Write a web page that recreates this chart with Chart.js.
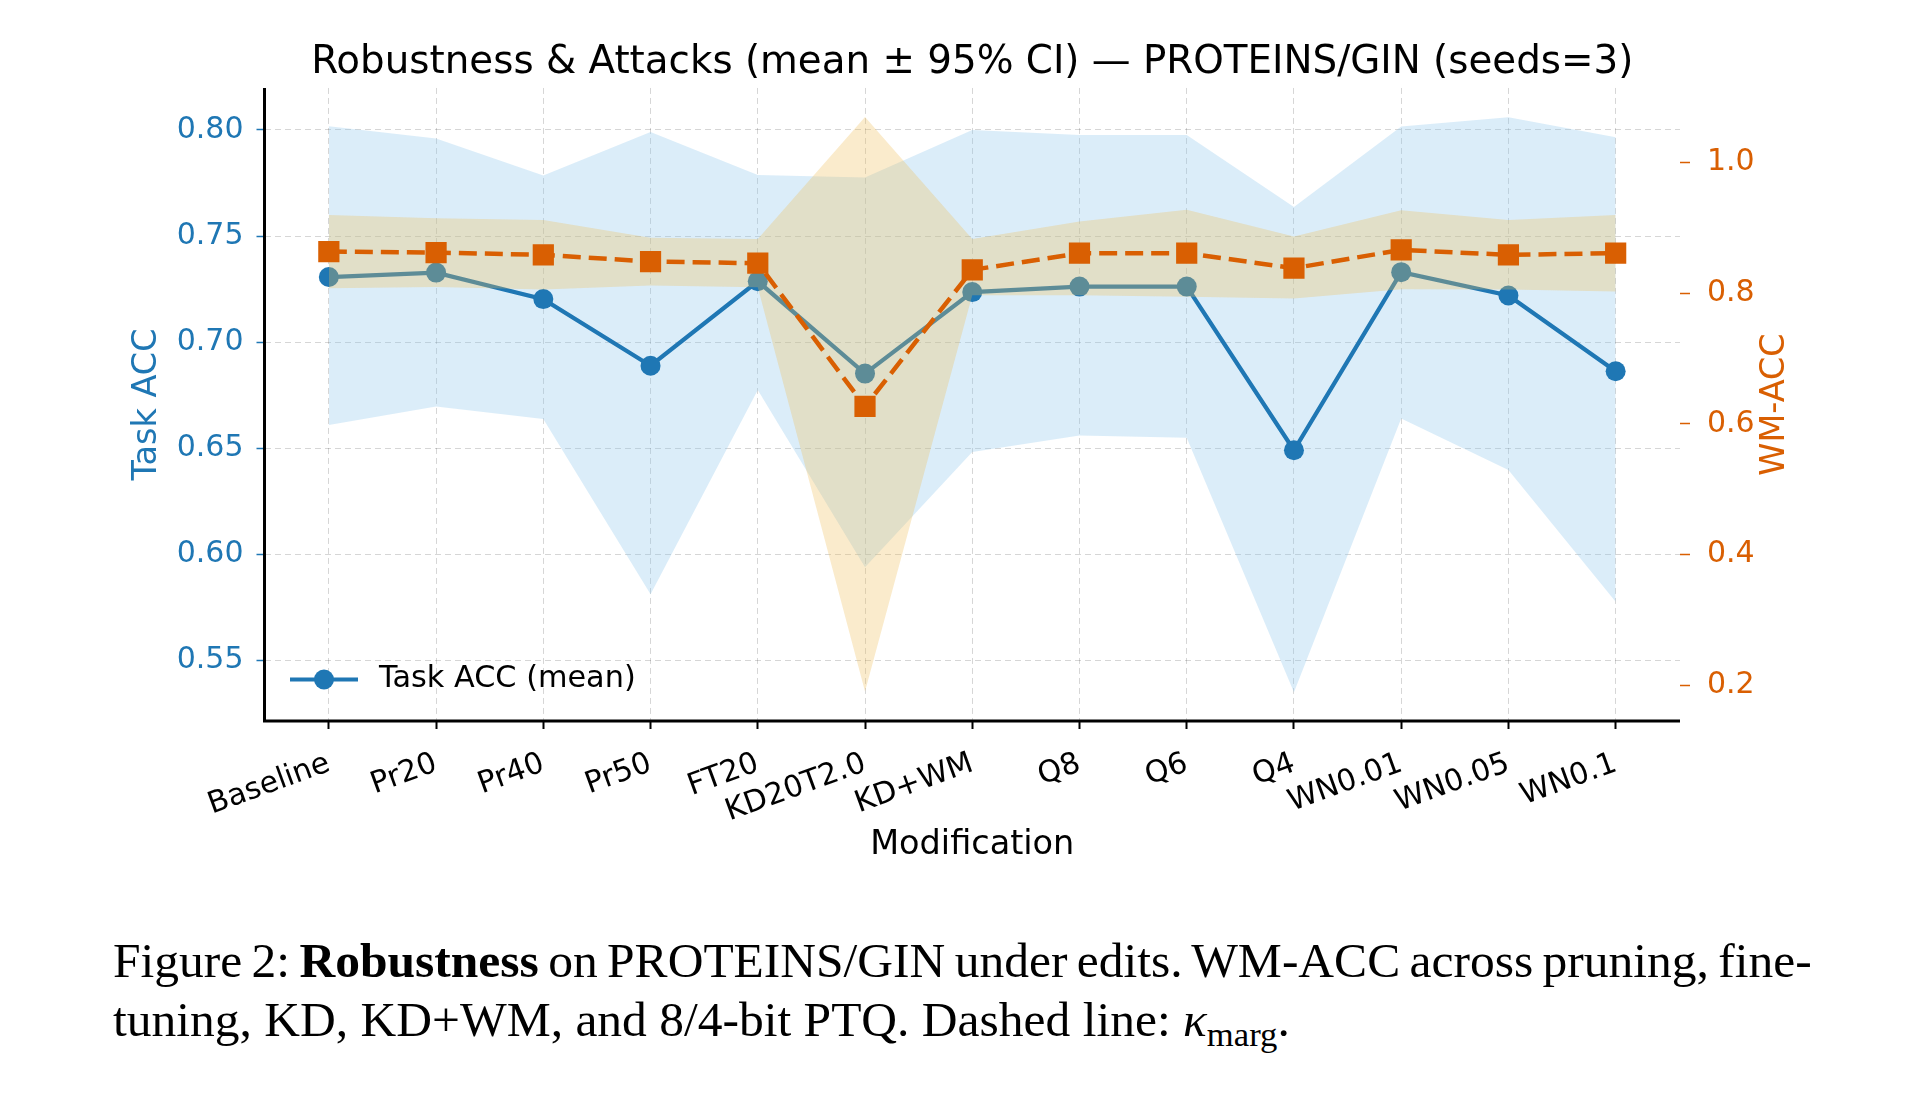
<!DOCTYPE html>
<html>
<head>
<meta charset="utf-8">
<script src="https://cdn.jsdelivr.net/npm/chart.js@4.4.0/dist/chart.umd.min.js"></script>
<style>
  html, body { margin: 0; padding: 0; background: #fff; }
  body { width: 1920px; height: 1097px; position: relative; overflow: hidden; }
  #wrap { position: absolute; left: 0; top: 0; width: 1920px; height: 900px; }
  #caption { position: absolute; left: 113px; top: 931px; font-family: "Liberation Serif", "Times New Roman", serif;
             font-size: 49.5px; line-height: 59px; color: #000; white-space: nowrap; }
  #caption sub { font-size: 0.7em; vertical-align: -0.3em; line-height: 0; }
  #cap1 { word-spacing: -3px; }
</style>
</head>
<body>
<div id="wrap"><canvas id="chart" width="1920" height="900"></canvas></div>
<div id="caption">
  <div id="cap1">Figure 2: <b>Robustness</b> on PROTEINS/GIN under edits. WM-ACC across pruning, fine-</div>
  <div>tuning, KD, KD+WM, and 8/4-bit PTQ. Dashed line: <i>κ</i><sub>marg</sub>.</div>
</div>
<script>
// categories (x axis)
const categories = ['Baseline', 'Pr20', 'Pr40', 'Pr50', 'FT20', 'KD20T2.0', 'KD+WM',
    'Q8', 'Q6', 'Q4', 'WN0.01', 'WN0.05', 'WN0.1'];

// Task ACC (left axis): mean and 95% CI
const taskAcc = [0.7307, 0.7328, 0.7203, 0.6889, 0.7287, 0.6852, 0.7236, 0.7262, 0.7262, 0.6491, 0.7330, 0.7220, 0.6863];
const taskLo  = [0.6610, 0.6697, 0.6638, 0.5812, 0.6775, 0.5940, 0.6482, 0.6560, 0.6550, 0.5350, 0.6641, 0.6398, 0.5777];
const taskHi  = [0.8017, 0.7960, 0.7785, 0.7990, 0.7788, 0.7776, 0.8000, 0.7976, 0.7976, 0.7637, 0.8016, 0.8060, 0.7966];

// WM-ACC (right axis): mean and 95% CI
const wmAcc = [0.8638, 0.8623, 0.8588, 0.8485, 0.8460, 0.6266, 0.8358, 0.8613, 0.8613, 0.8384, 0.8664, 0.8588, 0.8613];
const wmLo  = [0.8076, 0.8096, 0.8056, 0.8120, 0.8090, 0.1900, 0.7970, 0.7970, 0.7946, 0.7920, 0.8060, 0.8056, 0.8026];
const wmHi  = [0.9200, 0.9150, 0.9120, 0.8850, 0.8830, 1.0700, 0.8830, 0.9100, 0.9280, 0.8870, 0.9270, 0.9120, 0.9200];

// tick labels
const taskTicks = [0.55, 0.60, 0.65, 0.70, 0.75, 0.80];
const wmTicks = [0.2, 0.4, 0.6, 0.8, 1.0];

const FONT = 'DejaVu Sans';
const blue = '#1f77b4';
const orange = '#d95f02';
const none = 'rgba(0,0,0,0)';

function pts(arr) {
    return arr.map((v, i) => ({x: i, y: v}));
}

<!-- spines, legend, right axis title -->
const extras = {
    id: 'extras',
    afterDraw(chart) {
        const ctx = chart.ctx;
        const a = chart.chartArea;
        ctx.save();
        ctx.setLineDash([]);
        ctx.strokeStyle = '#000';
        ctx.lineWidth = 3;
        ctx.beginPath();
        ctx.moveTo(a.left, a.top);
        ctx.lineTo(a.left, a.bottom);
        ctx.lineTo(a.right, a.bottom);
        ctx.stroke();

        // legend
        const ly = a.bottom - 41.5;
        ctx.strokeStyle = blue;
        ctx.lineWidth = 4;
        ctx.beginPath();
        ctx.moveTo(a.left + 25.5, ly);
        ctx.lineTo(a.left + 93.5, ly);
        ctx.stroke();
        ctx.fillStyle = blue;
        ctx.beginPath();
        ctx.arc(a.left + 59.5, ly, 10, 0, Math.PI * 2);
        ctx.fill();
        ctx.fillStyle = '#000';
        ctx.font = '30.3px "' + FONT + '"';
        ctx.textBaseline = 'middle';
        ctx.textAlign = 'left';
        ctx.fillText('Task ACC (mean)', a.left + 114.5, ly);

        // right axis title
        ctx.translate(a.right + 95, (a.top + a.bottom) / 2);
        ctx.rotate(-Math.PI / 2);
        ctx.textAlign = 'center';
        ctx.fillStyle = orange;
        ctx.font = '33.5px "' + FONT + '"';
        ctx.fillText('WM-ACC', 0, 0);
        ctx.restore();
    }
};

new Chart(document.getElementById('chart'), {
    type: 'line',
    data: {
        datasets: [
            { label: 'taskLo', data: pts(taskLo), yAxisID: 'y', borderColor: none, pointRadius: 0, fill: false, order: 6 },
            { label: 'taskHi', data: pts(taskHi), yAxisID: 'y', borderColor: none, pointRadius: 0,
              fill: 0, backgroundColor: 'rgba(135,196,235,0.3)', order: 5 },
            { label: 'Task ACC (mean)', data: pts(taskAcc), yAxisID: 'y', borderColor: blue, borderWidth: 4.2,
              pointRadius: 10, pointBackgroundColor: blue, pointBorderWidth: 0, fill: false, order: 4 },
            { label: 'wmLo', data: pts(wmLo), yAxisID: 'y1', borderColor: none, pointRadius: 0, fill: false, order: 3 },
            { label: 'wmHi', data: pts(wmHi), yAxisID: 'y1', borderColor: none, pointRadius: 0,
              fill: 3, backgroundColor: 'rgba(240,188,85,0.3)', order: 2 },
            { label: 'WM-ACC', data: pts(wmAcc), yAxisID: 'y1', borderColor: orange, borderWidth: 4.5, borderDash: [18, 8],
              pointStyle: 'rect', pointRadius: 15, pointBackgroundColor: orange, pointBorderWidth: 0, fill: false, order: 1 }
        ]
    },
    options: {
        responsive: false,
        animation: false,
        devicePixelRatio: 1,
        events: [],
        layout: { padding: 0 },
        plugins: {
            legend: { display: false },
            tooltip: { enabled: false },
            title: {
                display: true,
                fullSize: false,
                text: 'Robustness & Attacks (mean ± 95% CI) — PROTEINS/GIN (seeds=3)',
                color: '#000',
                font: { family: FONT, size: 38.8, weight: 'normal' },
                padding: { top: 39.7, bottom: 1.7 }
            }
        },
        scales: {
            x: {
                type: 'linear',
                min: -0.6,
                max: 12.6,
                afterBuildTicks: s => { s.ticks = categories.map((c, i) => ({value: i})); },
                afterFit: s => { s.height = 179; },
                ticks: {
                    autoSkip: false, minRotation: 20, maxRotation: 20, padding: 17,
                    color: '#000', font: { family: FONT, size: 30 },
                    callback: v => categories[v]
                },
                grid: { color: 'rgba(0,0,0,0.16)', lineWidth: 1, tickColor: '#000', tickLength: 8, tickWidth: 2 },
                border: { display: false, dash: [6, 4] },
                title: { display: true, text: 'Modification', color: '#000',
                         font: { family: FONT, size: 33.5 }, padding: { top: 0, bottom: 34.9 } }
            },
            y: {
                type: 'linear',
                position: 'left',
                min: 0.5215,
                max: 0.8198,
                afterBuildTicks: s => { s.ticks = taskTicks.map(v => ({value: v})); },
                afterFit: s => { s.width = 264.5; },
                ticks: { color: blue, padding: 13, font: { family: FONT, size: 30 }, callback: v => v.toFixed(2) },
                grid: { color: 'rgba(0,0,0,0.16)', lineWidth: 1, tickColor: blue, tickLength: 8, tickWidth: 1.5 },
                border: { display: false, dash: [6, 4] },
                title: { display: true, text: 'Task ACC', color: blue,
                         font: { family: FONT, size: 33.5 }, padding: { top: 126.9, bottom: 0 } }
            },
            y1: {
                type: 'linear',
                position: 'right',
                min: 0.1449,
                max: 1.1144,
                afterBuildTicks: s => { s.ticks = wmTicks.map(v => ({value: v})); },
                afterFit: s => { s.width = 240; },
                ticks: { color: orange, padding: 17, font: { family: FONT, size: 30 }, callback: v => v.toFixed(1) },
                grid: { drawOnChartArea: false, color: none, tickColor: orange, tickLength: 10, tickWidth: 1.5 },
                border: { display: false }
            }
        }
    },
    plugins: [extras]
});
</script>
</body>
</html>
